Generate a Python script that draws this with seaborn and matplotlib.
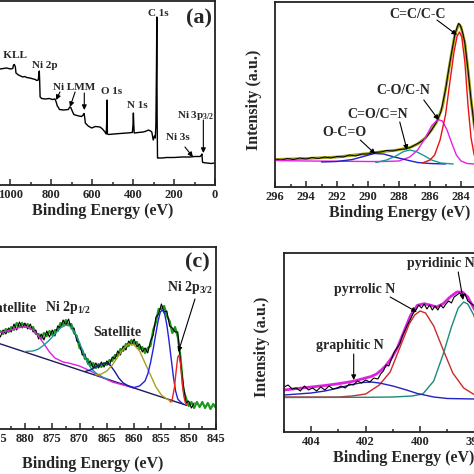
import numpy as np
import pandas as pd
import seaborn as sns
import matplotlib.pyplot as plt
from matplotlib.ticker import MultipleLocator

sns.set_style("ticks")
plt.rcParams['font.family'] = ['Liberation Serif', 'DejaVu Serif']
plt.rcParams['font.weight'] = 'bold'
plt.rcParams['axes.labelweight'] = 'bold'
plt.rcParams['mathtext.fontset'] = 'custom'
plt.rcParams['mathtext.rm'] = 'Liberation Serif:bold'
plt.rcParams['mathtext.default'] = 'rm'

# ---------------- (a) survey spectrum ----------------
survey_ev = [1100, 1051, 1035, 1018, 1000, 989, 985, 981, 976, 973,
             961, 950, 940, 930, 921, 905, 888, 878, 872, 864,
             861, 859, 857.5, 855, 847, 830, 810, 795, 782, 775,
             771, 765, 761, 740, 717, 710, 705, 698, 690, 684,
             665, 652, 645, 640, 636, 634, 620, 603, 585, 562,
             550, 538, 532, 530, 528, 526, 520, 495, 464, 430,
             404, 401, 399, 397, 395, 375, 351, 335, 326, 315,
             309, 302, 296, 292, 289, 286, 284.5, 283, 281, 279,
             260, 236, 200, 160, 122, 100, 73, 66, 64, 61,
             59, 40, 20, 0]
survey_int = [116, 116, 116.5, 117, 116, 116.5, 120, 120.5, 118, 112,
              110, 109, 108, 108.5, 107.5, 107, 106, 105.5, 104.5, 105,
              111, 114, 106, 88, 86.5, 86, 86.5, 85.5, 86, 82,
              79, 77.5, 75.5, 75, 75.5, 78, 77.5, 74, 70.5, 70,
              69, 68.5, 70, 71.5, 66, 62, 59, 57, 58.5, 58,
              56, 53, 51, 60, 85, 51, 50.5, 51, 51.5, 52,
              52.5, 60, 72, 60, 52, 52.5, 53, 54, 55, 54,
              53, 45, 49, 47, 60, 120, 168, 70, 27, 27,
              27, 27.5, 27.5, 28, 28, 28.5, 28.5, 30, 31, 23,
              22.5, 22, 21.5, 22]

survey_labels = [("O KLL", 919, 130, "right"), ("Ni 2p", 831, 120, "center"),
                 ("Ni LMM", 689, 98, "center"), ("O 1s", 504, 94, "center"),
                 ("N 1s", 379, 79, "center"), ("C 1s", 279, 171.5, "center"),
                 ("Ni 3p$_{3/2}$", 93, 70, "center"), ("Ni 3s", 181, 48, "center")]
survey_arrows = [((758, 93), (777, 85)), ((684, 93), (709, 78)),
                 ((639, 92), (639, 75)), ((57, 65), (57, 32)), ((147, 38), (108, 28))]

# ---------------- (b) C 1s ----------------
c1s_raw_ev = [296, 295.6, 295.2, 294.8, 294.4, 294, 293.6, 293.2, 292.8, 292.4,
              292, 291.6, 291.2, 290.8, 290.4, 290, 289.6, 289.2, 288.8, 288.4,
              288, 287.6, 287.2, 286.8, 286.5, 286.2, 285.9, 285.6, 285.3, 285.0,
              284.8, 284.6, 284.4, 284.25, 284.15, 284.05, 283.9, 283.75, 283.55, 283.35,
              283.15, 283.0]
c1s_raw = [28, 27, 28.5, 27.5, 29, 28, 29.5, 28.5, 30, 29,
           30.5, 30, 32, 31, 33, 33, 34.5, 35, 36.5, 36,
           37.5, 38, 40, 43.5, 46, 50.5, 57, 64.5, 75, 97,
           117, 135, 152, 160, 163.5, 162, 155, 144, 117, 87,
           62, 47]
c1s_fit_ev = [296, 294, 292, 290, 289, 288.1, 287.3, 286.8, 286.3, 285.9,
              285.55, 285.2, 284.95, 284.65, 284.4, 284.15, 284.0, 283.75, 283.55, 283.35,
              283.15, 283.0]
c1s_fit = [27.5, 28.5, 30, 33.5, 35.5, 37, 39.5, 43, 49, 57,
           65.5, 80, 102, 130, 152, 163, 160, 144, 117, 87,
           62, 47]
occo_ev = [293, 292, 291, 290.3, 289.6, 289, 288.3, 287.5, 286.8, 286, 285]
occo = [25, 25.5, 27.5, 30.5, 33.5, 33, 30, 27, 24.5, 23.5, 23]
coc_ev = [289.5, 288.8, 288.2, 287.7, 287.3, 286.9, 286.4, 285.9, 285.3, 284.5]
coc = [24.5, 27, 31, 35.5, 37, 35.5, 31.5, 27, 24, 23]
co_ev = [296, 294, 292, 290, 289, 288, 287.3, 286.8, 286.3, 285.9,
         285.5, 285.2, 284.9, 284.6, 284.3, 284.0, 283.6, 283.1]
co = [26.5, 26, 25.8, 25.5, 25.5, 26, 30, 37, 49, 61,
      67.5, 66, 57, 44, 32, 26, 23.5, 23]
cc_ev = [286.5, 286.0, 285.7, 285.35, 285.0, 284.7, 284.45, 284.25, 284.1, 283.95,
         283.75, 283.55, 283.35, 283.15, 283.0]
cc = [24, 27, 32, 47, 72, 107, 135, 151, 155, 150,
      125, 82, 49, 32, 27]

c1s_labels = [("C=C/C-C", 286.77, 173), ("C-O/C-N", 287.74, 96),
              ("C=O/C=N", 289.35, 72), ("O-C=O", 291.5, 54)]
c1s_arrows = [((285.55, 167), (284.26, 152)), ((286.4, 87), (285.44, 67)),
              ((287.95, 65), (287.48, 37)), ((290.5, 47), (289.53, 33))]

# ---------------- (c) Ni 2p ----------------
ni_ev = [890.0, 889.5, 889.0, 888.5, 888.0, 887.5, 887.0, 886.5, 886.0, 885.5,
         885.0, 884.5, 884.0, 883.5, 883.0, 882.5, 882.0, 881.5, 881.0, 880.5,
         880.0, 879.5, 879.0, 878.5, 878.0, 877.5, 877.0, 876.5, 876.0, 875.5,
         875.0, 874.5, 874.0, 873.5, 873.0, 872.5, 872.0, 871.5, 871.0, 870.5,
         870.0, 869.5, 869.0, 868.5, 868.0, 867.5, 867.0, 866.5, 866.0, 865.5,
         865.0, 864.5, 864.0, 863.5, 863.0, 862.5, 862.0, 861.5, 861.0, 860.5,
         860.0, 859.5, 859.0, 858.5, 858.0, 857.5, 857.0, 856.5, 856.0, 855.5,
         855.0, 854.5, 854.0, 853.5, 853.0, 852.5, 852.0, 851.5, 851.0, 850.5,
         850.0, 849.5, 849.0, 848.5, 848.0, 847.5, 847.0, 846.5, 846.0, 845.5,
         845.0]
ni_green = [94, 97, 93, 98, 95, 99, 95, 99, 95, 98,
            94, 98, 95, 100, 97, 102, 99, 106, 102, 106,
            102, 105, 100, 102, 95, 95, 90, 96, 93, 98,
            94, 99, 98, 106, 104, 109, 104, 105, 96, 93,
            81, 79, 70, 70, 63, 66, 61, 65, 62, 66,
            64, 69, 68, 74, 73, 80, 78, 85, 83, 89,
            85, 87, 80, 82, 76, 81, 83, 99, 107, 120,
            120, 123, 113, 108, 96, 102, 92, 72, 40, 31,
            23, 27, 21, 27, 22, 27, 21, 26, 20, 25,
            21]
ni_black = [97, 92, 98, 94, 99, 93, 98, 95, 100, 93,
            97, 92, 99, 95, 101, 97, 105, 99, 107, 101,
            106, 100, 105, 97, 99, 90, 95, 89, 98, 92,
            99, 93, 103, 101, 109, 104, 110, 100, 101, 88,
            86, 74, 75, 65, 68, 61, 66, 61, 67, 62,
            68, 64, 72, 70, 78, 74, 83, 79, 88, 84,
            90, 82, 85, 77, 81, 76, 88, 94, 112, 115,
            125, 117, 118, 103, 101, 97, 97, 67, 45, 26,
            28, 21, 26]
ni_bg_ev = [890, 850.4]
ni_bg = [95, 23.7]
sat1_ev = [890, 888, 886, 884, 882, 880.5, 879.5, 878.5, 877.5, 876.5,
           875.5, 874.5, 873, 872, 870, 868, 866, 864, 862, 860]
sat1 = [95, 95, 96, 97, 100, 102, 102, 99, 93, 85,
        77, 71, 67, 66, 63, 58, 52, 47, 44, 41]
p12_ev = [880, 878.5, 877.5, 876.5, 875.5, 874.5, 873.5, 872.5, 871.8, 871,
          870.2, 869.4, 868.6, 867.8, 867, 866, 865]
p12 = [77.5, 78, 80, 84, 89, 95, 101, 104, 103, 98,
       89, 78, 67, 60, 56, 52.5, 50]
bump_ev = [869, 868, 867, 866, 865.2, 864.4, 863.6, 862.8, 862, 861, 860]
bump = [57.5, 59, 62, 65, 66, 64, 58, 51, 46, 43, 41]
sat2_ev = [867, 866, 865, 864, 863, 862, 861, 860, 859, 858,
           857, 856, 855, 854, 853]
sat2 = [54, 55, 58, 64, 72, 80, 85, 84, 78, 66,
        54, 42, 34, 30, 27]
p32_ev = [861, 860, 859, 858, 857.5, 857, 856.5, 856, 855.6, 855.2,
          854.8, 854.4, 854.0, 853.6, 853.2, 852.8, 852.4, 852, 851.5, 851]
p32 = [43, 41.5, 43, 48, 55, 66, 80, 96, 108, 117,
       119, 115, 104, 88, 70, 52, 38, 30, 27, 25]
ni0_ev = [853.4, 853, 852.6, 852.3, 852.0, 851.75, 851.5, 851.2, 850.9, 850.6, 850.3]
ni0 = [27, 30, 42, 58, 72, 74, 65, 48, 33, 26, 24]

ni_labels = [("Satellite", 877.8, 120, "right"), ("Ni 2p$_{1/2}$", 872.1, 122, "center"),
             ("Satellite", 863.0, 97, "center"), ("Ni 2p$_{3/2}$", 849.8, 141, "center")]
ni_arrows = [((848.85, 130), (851.9, 77))]

# ---------------- (d) N 1s ----------------
n_raw_ev = [405.00, 404.85, 404.70, 404.55, 404.40, 404.25, 404.10, 403.95, 403.80, 403.65,
            403.50, 403.35, 403.20, 403.05, 402.90, 402.75, 402.60, 402.45, 402.30, 402.15,
            402.00, 401.85, 401.70, 401.55, 401.45, 401.35, 401.25, 401.15, 401.05, 400.95,
            400.85, 400.75, 400.65, 400.55, 400.45, 400.35, 400.25, 400.15, 400.05, 399.95,
            399.85, 399.75, 399.65, 399.55, 399.45, 399.35, 399.25, 399.15, 399.05, 398.95,
            398.85, 398.75, 398.65, 398.55, 398.45, 398.35, 398.25, 398.15, 398.05, 397.95,
            397.85]
n_raw = [45, 47, 43, 44, 41, 46, 42, 44, 41, 45,
         42, 46, 43, 44, 46, 44, 48, 47, 51, 49,
         52, 50, 54, 53, 58, 61, 67, 66, 73, 80,
         84, 88, 96, 102, 108, 113, 119, 122, 127, 124,
         128, 123, 127, 122, 126, 122, 127, 124, 128, 131,
         129, 135, 137, 139, 136, 138, 131, 129, 127, 125,
         122]
n_fit_ev = [405, 404.5, 404, 403.5, 403, 402.5, 402.1, 401.8, 401.6, 401.4,
            401.25, 401.05, 400.85, 400.6, 400.35, 400.1, 399.85, 399.6, 399.4, 399.15,
            398.9, 398.65, 398.45, 398.25, 398.05, 397.85, 397.6]
n_fit = [42, 43.5, 45, 46.5, 48.3, 50.5, 53.3, 55.5, 58, 62.5,
         66.7, 74, 83.3, 100, 116.7, 126.7, 128.3, 126.7, 125, 128.3,
         135, 140, 140, 135, 125, 115, 100]
pyrrolic_ev = [405, 403, 402.5, 402.0, 401.5, 401.1, 400.75, 400.4, 400.2, 400.0,
               399.8, 399.5, 399.15, 398.8, 398.4, 398.05, 397.6, 396]
pyrrolic = [35, 35, 36, 38, 47, 60, 84, 108, 117, 121,
            119, 106, 82, 59, 44, 38, 36, 35]
pyridinic_ev = [405, 402, 401, 400.3, 399.9, 399.5, 399.15, 398.85, 398.6, 398.4,
                398.25, 398.05, 397.8, 397.5, 397.2]
pyridinic = [34.5, 34.7, 35, 36, 38, 51, 78, 105, 124, 130,
             128, 118, 100, 75, 55]
graphitic_ev = [405, 404, 403.5, 403, 402.5, 402.1, 401.8, 401.5, 401, 400.5,
                400.1, 399.5, 399, 398, 396]
graphitic = [37, 39, 41, 44, 47.5, 49.5, 50, 49, 46, 42,
             38.5, 35, 33.5, 33, 33]

n_labels = [("pyridinic N", 400.49, 168.3, "left"), ("pyrrolic N", 402.03, 143, "center"),
            ("graphitic N", 402.58, 87, "center")]
n_arrows = [((398.6, 160), (398.42, 132)), ((401.1, 135), (400.12, 120)),
            ((402.44, 78), (402.44, 52))]


def line(ax, x, y, color, lw):
    sns.lineplot(x=x, y=y, ax=ax, color=color, lw=lw, sort=False,
                 estimator=None, legend=False)


def style_axis(ax, xlim, ylim, major, minor, label_xy, ylabel_xy=None):
    ax.set_xlim(*xlim)
    ax.set_ylim(*ylim)
    ax.xaxis.set_major_locator(MultipleLocator(major))
    ax.xaxis.set_minor_locator(MultipleLocator(minor))
    ax.set_yticks([])
    ax.tick_params(axis='x', which='major', direction='in', length=4, width=1.1,
                   labelsize=9, pad=3)
    ax.tick_params(axis='x', which='minor', direction='in', length=2.5, width=1.1)
    for s in ax.spines.values():
        s.set_linewidth(1.3)
        s.set_color('#222222')
    ax.set_xlabel('Binding Energy (eV)', fontsize=11.5)
    ax.xaxis.set_label_coords(*label_xy)
    if ylabel_xy is not None:
        ax.set_ylabel('Intensity (a.u.)', fontsize=11.5)
        ax.yaxis.set_label_coords(*ylabel_xy)
    else:
        ax.set_ylabel('')


def put_labels(ax, labels, arrows, size):
    for item in labels:
        txt, x, y = item[0], item[1], item[2]
        ha = item[3] if len(item) > 3 else 'center'
        ax.text(x, y, txt, ha=ha, va='center', fontsize=size, fontweight='bold')
    for tail, tip in arrows:
        ax.annotate('', xy=tip, xytext=tail,
                    arrowprops=dict(arrowstyle='-|>', color='black', lw=0.8,
                                    mutation_scale=7, shrinkA=0, shrinkB=0))


fig = plt.figure(figsize=(4.74, 4.74), dpi=100)
W = 474.0


def rect(left, right, top, bottom):
    return [left / W, (W - bottom) / W, (right - left) / W, (bottom - top) / W]


# (a)
ax_a = fig.add_axes(rect(-10, 215, 1, 185))
line(ax_a, survey_ev, survey_int, 'black', 1.0)
put_labels(ax_a, survey_labels, survey_arrows, 8)
ax_a.text(78, 167, '(a)', ha='center', va='center', fontsize=16, fontweight='bold')
style_axis(ax_a, (1100, 0), (0, 184), 200, 100, (0.502, -0.098))

# (b)
ax_b = fig.add_axes(rect(275, 523, 2, 187))
line(ax_b, c1s_fit_ev, c1s_fit, '#9a9a10', 2.0)
line(ax_b, c1s_raw_ev, c1s_raw, 'black', 0.7)
line(ax_b, co_ev, co, '#e81ee8', 1.0)
line(ax_b, occo_ev, occo, '#2020c8', 1.0)
line(ax_b, coc_ev, coc, '#169a9a', 1.0)
line(ax_b, cc_ev, cc, '#ee1010', 1.0)
put_labels(ax_b, c1s_labels, c1s_arrows, 10)
style_axis(ax_b, (296, 280), (0, 185), 2, 1, (0.504, -0.096), (-0.052, 0.47))

# (c)
ax_c = fig.add_axes(rect(-29.7, 216, 247, 429))
line(ax_c, ni_ev, ni_green, '#1c9a1c', 1.6)
line(ax_c, ni_ev[:len(ni_black)], ni_black, 'black', 0.8)
line(ax_c, ni_bg_ev, ni_bg, '#1a1a60', 1.0)
line(ax_c, sat1_ev, sat1, '#e020e0', 1.0)
line(ax_c, p12_ev, p12, '#1a9a9a', 1.0)
line(ax_c, bump_ev, bump, '#1a1a90', 1.0)
line(ax_c, sat2_ev, sat2, '#a8a020', 1.0)
line(ax_c, p32_ev, p32, '#2020e0', 1.0)
line(ax_c, ni0_ev, ni0, '#ee2020', 1.0)
put_labels(ax_c, ni_labels, ni_arrows, 10)
ax_c.text(848.5, 167, '(c)', ha='center', va='center', fontsize=16, fontweight='bold')
style_axis(ax_c, (890, 845), (0, 182), 5, 2.5, (0.5, -0.146))

# (d)
ax_d = fig.add_axes(rect(284, 529, 253, 432))
line(ax_d, n_fit_ev, n_fit, '#e020e0', 2.0)
line(ax_d, pyrrolic_ev, pyrrolic, '#cc2a2a', 1.0)
line(ax_d, pyridinic_ev, pyridinic, '#1a8a7a', 1.0)
line(ax_d, graphitic_ev, graphitic, '#2222c0', 1.0)
line(ax_d, n_raw_ev, n_raw, 'black', 0.8)
put_labels(ax_d, n_labels, n_arrows, 10)
style_axis(ax_d, (405, 396), (0, 179), 2, 1, (0.49, -0.10), (-0.057, 0.475))

fig.savefig('out.png', dpi=100)
